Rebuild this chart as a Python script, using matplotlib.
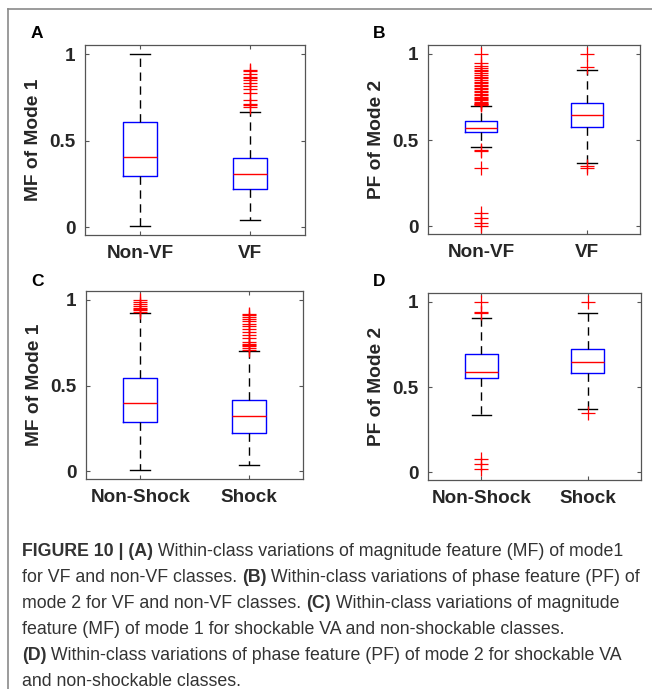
import matplotlib.pyplot as plt
from matplotlib.lines import Line2D

# --- data (box stats + outliers) ---
labels_vf = ['Non-VF', 'VF']
labels_shock = ['Non-Shock', 'Shock']

# panel A: MF of mode 1, Non-VF / VF
a_q1 = [0.297, 0.218]
a_med = [0.406, 0.306]
a_q3 = [0.607, 0.400]
a_lo = [0.005, 0.039]
a_hi = [1.0, 0.664]
a_fliers = [[],
            [0.695, 0.705, 0.71, 0.734, 0.772, 0.80, 0.815, 0.83, 0.849, 0.86, 0.865, 0.884, 0.903, 0.91]]

# panel B: PF of mode 2, Non-VF / VF
b_q1 = [0.546, 0.575]
b_med = [0.571, 0.647]
b_q3 = [0.608, 0.714]
b_lo = [0.458, 0.367]
b_hi = [0.699, 0.907]
b_fliers = [[0.0, 0.019, 0.048, 0.077, 0.338, 0.434, 0.444,
             0.703, 0.708, 0.712, 0.718, 0.724, 0.73, 0.737, 0.745, 0.752, 0.76, 0.77,
             0.778, 0.787, 0.795, 0.805, 0.814, 0.822, 0.83, 0.84, 0.851, 0.86, 0.868,
             0.878, 0.889, 0.9, 0.907, 0.92, 0.931, 0.946, 1.0],
            [0.338, 0.35, 0.927, 1.0]]

# panel C: MF of mode 1, Non-Shock / Shock
c_q1 = [0.286, 0.222]
c_med = [0.400, 0.321]
c_q3 = [0.542, 0.414]
c_lo = [0.006, 0.039]
c_hi = [0.925, 0.700]
c_fliers = [[0.93, 0.94, 0.948, 0.955, 0.965, 0.975, 0.987, 1.0],
            [0.71, 0.72, 0.729, 0.735, 0.745, 0.753, 0.775, 0.797, 0.815, 0.83,
             0.845, 0.86, 0.875, 0.89, 0.90, 0.91, 0.92]]

# panel D: PF of mode 2, Non-Shock / Shock
d_q1 = [0.553, 0.580]
d_med = [0.586, 0.648]
d_q3 = [0.693, 0.723]
d_lo = [0.338, 0.371]
d_hi = [0.908, 0.932]
d_fliers = [[0.02, 0.049, 0.078, 0.934, 0.941, 1.0],
            [0.346, 1.0]]

panels = [
    ('A', 'MF of Mode 1', labels_vf, a_q1, a_med, a_q3, a_lo, a_hi, a_fliers),
    ('B', 'PF of Mode 2', labels_vf, b_q1, b_med, b_q3, b_lo, b_hi, b_fliers),
    ('C', 'MF of Mode 1', labels_shock, c_q1, c_med, c_q3, c_lo, c_hi, c_fliers),
    ('D', 'PF of Mode 2', labels_shock, d_q1, d_med, d_q3, d_lo, d_hi, d_fliers),
]

W, H = 652, 689
fig = plt.figure(figsize=(W / 100, H / 100), dpi=100)

# axes boxes in pixels: left, top, right, bottom
boxes = [(85, 45, 305, 235), (428, 45, 640, 234),
         (86, 291, 303, 479), (428, 293, 641, 480)]
# panel letter centres in pixels
letter_pos = [(37, 33), (379, 33), (37, 281), (379, 281)]

font = 'Liberation Sans'
axcol = '#555555'
txtcol = '#262626'

for (letter, ylab, xl, q1, med, q3, lo, hi, fl), (l, t, r, b), (lx, ly) in zip(panels, boxes, letter_pos):
    ax = fig.add_axes([l / W, 1 - b / H, (r - l) / W, (b - t) / H])
    stats = []
    for i in range(2):
        stats.append(dict(q1=q1[i], med=med[i], q3=q3[i], whislo=lo[i],
                          whishi=hi[i], fliers=fl[i], label=xl[i]))
    ax.bxp(stats, positions=[1, 2], widths=0.31, showfliers=True,
           boxprops=dict(color='blue', lw=1.0),
           medianprops=dict(color='red', lw=1.0),
           whiskerprops=dict(color='black', lw=1.0, ls=(0, (6, 4))),
           capprops=dict(color='black', lw=1.0),
           flierprops=dict(marker='+', markeredgecolor='red', markersize=10,
                           markeredgewidth=0.9, linestyle='none'),
           capwidths=0.18)
    ax.set_xlim(0.5, 2.5)
    ax.set_ylim(-0.045, 1.052)
    ax.set_yticks([0, 0.5, 1])
    ax.set_yticklabels(['0', '0.5', '1'])
    ax.tick_params(direction='in', length=3, width=0.8, color=axcol,
                   top=True, right=True, labelsize=13.6, labelcolor=txtcol, pad=7)
    for lab in ax.get_xticklabels() + ax.get_yticklabels():
        lab.set_fontweight('bold')
        lab.set_family(font)
    ax.set_ylabel(ylab, fontsize=13.8, fontweight='bold', family=font,
                  color=txtcol, labelpad=5)
    for s in ax.spines.values():
        s.set_color(axcol)
        s.set_linewidth(0.9)
    fig.text(lx / W, 1 - ly / H, letter, fontsize=12.5, fontweight='bold',
             family=font, color='black', va='center', ha='center')

# outer frame (left and top edge)
fig.add_artist(Line2D([7.5 / W, 7.5 / W], [0, 1 - 8.5 / H], color='#8a8a8a', lw=1.2))
fig.add_artist(Line2D([7.5 / W, 1], [1 - 8.5 / H, 1 - 8.5 / H], color='#8a8a8a', lw=1.2))

# caption, mixed bold / regular pieces
caption = [
    [('FIGURE 10 | (A)', 'bold'), (' Within-class variations of magnitude feature (MF) of mode1', 'normal')],
    [('for VF and non-VF classes. ', 'normal'), ('(B)', 'bold'), (' Within-class variations of phase feature (PF) of', 'normal')],
    [('mode 2 for VF and non-VF classes. ', 'normal'), ('(C)', 'bold'), (' Within-class variations of magnitude', 'normal')],
    [('feature (MF) of mode 1 for shockable VA and non-shockable classes.', 'normal')],
    [('(D)', 'bold'), (' Within-class variations of phase feature (PF) of mode 2 for shockable VA', 'normal')],
    [('and non-shockable classes.', 'normal')],
]
cap_font = ['Liberation Sans Narrow', 'Liberation Sans', 'DejaVu Sans']
renderer = fig.canvas.get_renderer()
y0 = 551
for k, line in enumerate(caption):
    x = 22
    y = y0 + k * 26.2
    for txt, wt in line:
        tt = fig.text(x / W, 1 - y / H, txt, fontsize=12.8, fontweight=wt,
                      family=cap_font, color='#333333', va='center', ha='left')
        bb = tt.get_window_extent(renderer=renderer)
        x += bb.width

fig.savefig('out.png', dpi=100)
